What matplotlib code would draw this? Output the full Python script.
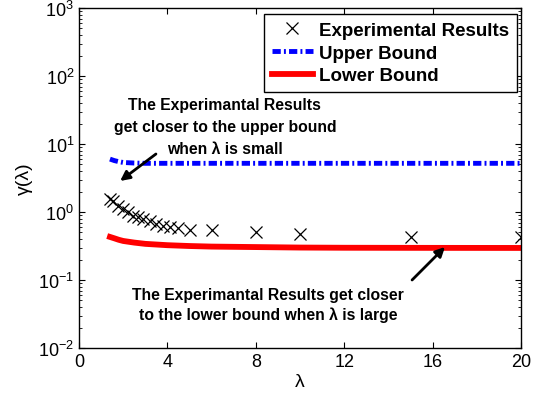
import matplotlib
matplotlib.use("Agg")
import matplotlib.pyplot as plt
from matplotlib.ticker import LogLocator, NullFormatter

plt.rcParams['font.family'] = ['Liberation Sans', 'DejaVu Sans']

# measured ratio vs lambda
lam_exp = [1.4, 1.55, 1.75, 2.0, 2.2, 2.45, 2.65, 2.9, 3.2, 3.5, 3.8, 4.1, 4.5, 5.0, 6.0, 8.0, 10.0, 15.0, 20.0]
gamma_exp = [1.55, 1.45, 1.23, 1.11, 1.0, 0.87, 0.84, 0.79, 0.74, 0.67, 0.62, 0.60, 0.58, 0.55, 0.54, 0.51, 0.47, 0.43, 0.43]

# bounds
lam_bound = [1.4, 1.6, 1.8, 2.0, 2.5, 3.0, 4.0, 5.0, 6.0, 8.0, 10.0, 12.0, 15.0, 20.0]
gamma_upper = [6.0, 5.7, 5.5, 5.35, 5.25, 5.2, 5.2, 5.2, 5.2, 5.2, 5.2, 5.2, 5.2, 5.2]
gamma_lower = [0.43, 0.41, 0.39, 0.375, 0.355, 0.34, 0.325, 0.316, 0.31, 0.305, 0.30, 0.298, 0.297, 0.296]

x_ticks = [0, 4, 8, 12, 16, 20]

fig = plt.figure(figsize=(5.42, 4.06), dpi=100)
ax = fig.add_axes([0.1458, 0.1404, 0.8155, 0.8374])

ax.semilogy(lam_exp, gamma_exp, 'x', color='black', markersize=8, markeredgewidth=0.9,
            label='Experimental Results')
ax.semilogy(lam_bound, gamma_upper, color='blue', linewidth=3.5, dashes=(1.7, 0.65, 0.4, 0.65),
            label='Upper Bound')
ax.semilogy(lam_bound, gamma_lower, color='red', linewidth=4.2, label='Lower Bound')

ax.set_xlim(0, 20)
ax.set_ylim(1e-2, 1e3)
ax.set_xticks(x_ticks)
ax.yaxis.set_minor_locator(LogLocator(base=10, subs=range(2, 10), numticks=20))
ax.yaxis.set_minor_formatter(NullFormatter())
ax.tick_params(which='both', direction='in', top=True, right=True, labelsize=13)
ax.tick_params(which='major', length=4, width=0.8)
ax.tick_params(which='minor', length=2, width=0.6)
for s in ax.spines.values():
    s.set_linewidth(1.0)

ax.set_xlabel('λ', fontsize=14, labelpad=2)
ax.set_ylabel('γ(λ)', fontsize=14, labelpad=4)

leg = ax.legend(loc='upper right', bbox_to_anchor=(0.991, 0.982), borderaxespad=0,
                fancybox=False, framealpha=1, edgecolor='black',
                prop={'weight': 'bold', 'size': 13.5},
                handlelength=2.2, handletextpad=0.35, labelspacing=0.3, borderpad=0.4)
leg.get_frame().set_linewidth(1.0)

arrow = dict(arrowstyle='-|>', color='black', lw=2, shrinkA=0, shrinkB=0, mutation_scale=14)

ax.text(6.6, 49.0, 'The Experimantal Results\nget closer to the upper bound\nwhen λ is small',
        ha='center', va='top', fontsize=11.3, fontweight='bold', linespacing=1.6)
ax.annotate('', xy=(1.86, 2.86), xytext=(3.48, 7.13), arrowprops=arrow)

ax.annotate('', xy=(16.56, 0.306), xytext=(15.07, 0.1), arrowprops=arrow)
ax.text(8.55, 0.078, 'The Experimantal Results get closer\nto the lower bound when λ is large',
        ha='center', va='top', fontsize=11.3, fontweight='bold', linespacing=1.3)

fig.savefig('out.png', dpi=100)
